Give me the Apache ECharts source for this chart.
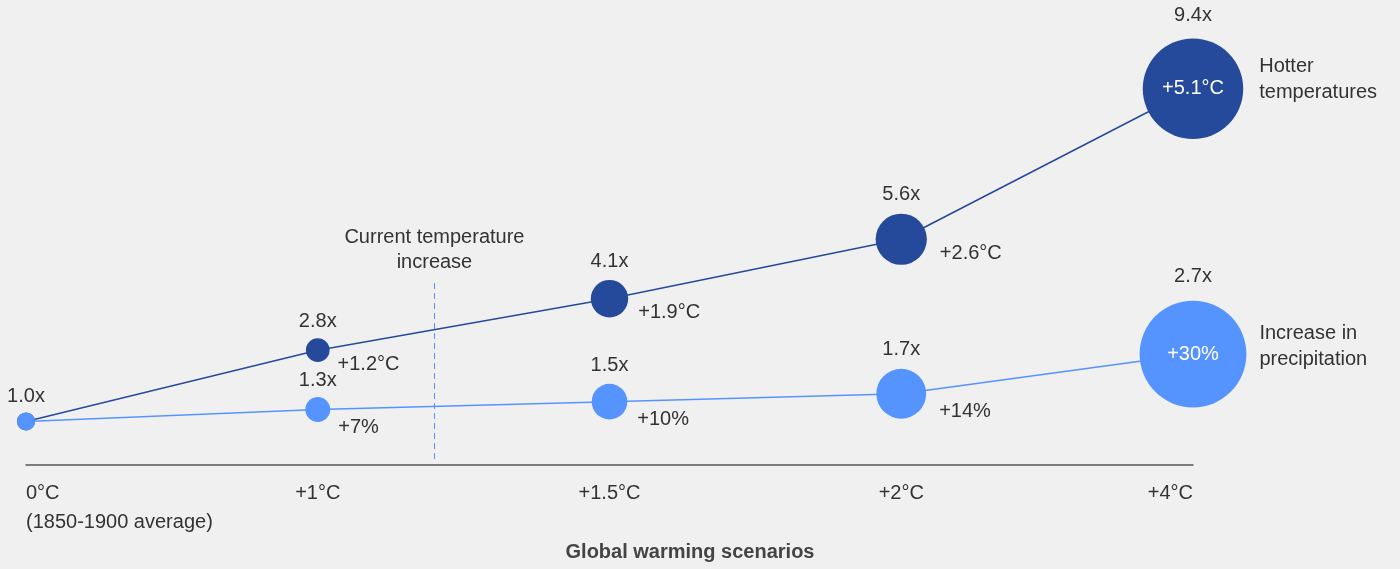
<!DOCTYPE html>
<html><head><meta charset="utf-8">
<script src="https://cdn.jsdelivr.net/npm/echarts@6/dist/echarts.min.js"></script>
<style>html,body{margin:0;padding:0;background:#f0f0f0;} #c{width:1400px;height:569px;}</style>
</head><body><div id="c"></div>
<script>
const scenarioLabels = ['0°C\n(1850-1900 average)', '+1°C', '+1.5°C', '+2°C', '+4°C'];
const scenarioTemps = [0, 1, 1.5, 2, 4];
const tempMultiplier = [1.0, 2.8, 4.1, 5.6, 9.4];
const tempIncrease = [0, 1.2, 1.9, 2.6, 5.1];
const precipMultiplier = [1.0, 1.3, 1.5, 1.7, 2.7];
const precipIncrease = [0, 7, 10, 14, 30];
const currentWarming = 1.2;
const seriesNames = ['Hotter\ntemperatures', 'Increase in\nprecipitation'];
const annotationText = 'Current temperature\nincrease';
const axisTitle = 'Global warming scenarios';

const FONT = "'Liberation Sans', Arial, sans-serif";
const DARK = '#264a9b';
const LIGHT = '#5594ff';
const TXT = '#333333';
const CLEAR = 'rgba(0,0,0,0)';

// position of current warming on scenario index scale
function tempToIndex(t) {
  for (let i = 0; i < scenarioTemps.length - 1; i++) {
    if (t >= scenarioTemps[i] && t <= scenarioTemps[i + 1]) {
      return i + (t - scenarioTemps[i]) / (scenarioTemps[i + 1] - scenarioTemps[i]);
    }
  }
  return scenarioTemps.length - 1;
}
const curIdx = tempToIndex(currentWarming);

const darkSize = i => Math.max(18, tempIncrease[i] * 19.7);
const lightSize = i => Math.max(18, precipIncrease[i] * 3.56);

function mainSeries(name, mult, sizeFn, color, showFirst, extra) {
  return Object.assign({
    type: 'line', name: name,
    data: mult.map((v, i) => {
      const s = sizeFn(i);
      return {
        value: [i, v],
        label: { show: i > 0 || showFirst, distance: Math.round(4.5 + s * 0.085) }
      };
    }),
    symbol: 'circle',
    symbolSize: (val, p) => sizeFn(p.dataIndex),
    showSymbol: true, showAllSymbol: true,
    lineStyle: { color: color, width: 1.5 },
    itemStyle: { color: color, opacity: 1 },
    label: {
      show: true, position: 'top', fontFamily: FONT, fontSize: 20, color: TXT,
      formatter: p => mult[p.dataIndex].toFixed(1) + 'x'
    },
    emphasis: { disabled: true },
    silent: true
  }, extra || {});
}

function deltaSeries(vals, mult, sizeFn, fmt, dy) {
  const last = vals.length - 1;
  return {
    type: 'scatter',
    data: mult.map((v, i) => {
      const s = sizeFn(i);
      const item = { value: [i, v], symbolSize: s };
      if (i === 0) {
        item.label = { show: false };
      } else if (i === last) {
        item.label = { show: true, position: 'inside', color: '#ffffff', offset: [0, 0], fontSize: 20 };
      } else {
        item.label = { show: true, position: 'right', distance: Math.round(3 + s * 0.2), offset: [0, dy] };
      }
      return item;
    }),
    itemStyle: { color: CLEAR, borderWidth: 0, opacity: 1 },
    label: {
      fontFamily: FONT, fontSize: 20, color: TXT,
      formatter: p => fmt(vals[p.dataIndex])
    },
    emphasis: { disabled: true },
    silent: true, z: 5
  };
}

function nameSeries(text, mult, sizeFn, dist, dy) {
  const last = mult.length - 1;
  return {
    type: 'scatter',
    data: [{ value: [last, mult[last]], symbolSize: sizeFn(last) }],
    itemStyle: { color: CLEAR, borderWidth: 0, opacity: 1 },
    label: {
      show: true, position: 'right', distance: dist, offset: [0, dy],
      fontFamily: FONT, fontSize: 20, color: TXT, lineHeight: 26, align: 'left',
      formatter: () => text
    },
    emphasis: { disabled: true },
    silent: true, z: 5
  };
}

const chart = echarts.init(document.getElementById('c'), null, { renderer: 'canvas' });
chart.setOption({
  backgroundColor: '#f0f0f0',
  animation: false,
  grid: { left: 26, right: 207, top: 65, bottom: 104, containLabel: false, outerBoundsMode: 'none' },
  xAxis: {
    type: 'value', min: 0, max: 4, interval: 1,
    axisLine: { show: true, onZero: false, lineStyle: { color: '#555555', width: 1.5 } },
    axisTick: { show: false },
    splitLine: { show: false },
    axisLabel: {
      formatter: v => scenarioLabels[v] || '',
      fontFamily: FONT, fontSize: 20, color: TXT, margin: 14, lineHeight: 29,
      alignMinLabel: 'left', alignMaxLabel: 'right', showMinLabel: true, showMaxLabel: true
    }
  },
  yAxis: { type: 'value', min: -0.1, max: 10, show: false, splitLine: { show: false } },
  graphic: [{
    type: 'text', x: 690, y: 552,
    style: { text: axisTitle, font: "bold 20px 'Liberation Sans', Arial, sans-serif", fill: '#444444', align: 'center', verticalAlign: 'middle' }
  }],
  series: [
    mainSeries('temp', tempMultiplier, darkSize, DARK, false),
    mainSeries('precip', precipMultiplier, lightSize, LIGHT, true, {
      markLine: {
        silent: true, symbol: 'none',
        lineStyle: { type: [6, 4], color: LIGHT, width: 1 },
        label: {
          show: true, position: 'end', distance: 8, formatter: annotationText,
          fontFamily: FONT, fontSize: 20, color: TXT, lineHeight: 25
        },
        data: [[{ coord: [curIdx, 0.05] }, { coord: [curIdx, 4.5] }]]
      }
    }),
    deltaSeries(tempIncrease, tempMultiplier, darkSize, v => '+' + v.toFixed(1) + '°C', 14),
    deltaSeries(precipIncrease, precipMultiplier, lightSize, v => '+' + v + '%', 18),
    nameSeries(seriesNames[0], tempMultiplier, darkSize, 16, -9),
    nameSeries(seriesNames[1], precipMultiplier, lightSize, 13, -8)
  ]
});
</script>
</body></html>
